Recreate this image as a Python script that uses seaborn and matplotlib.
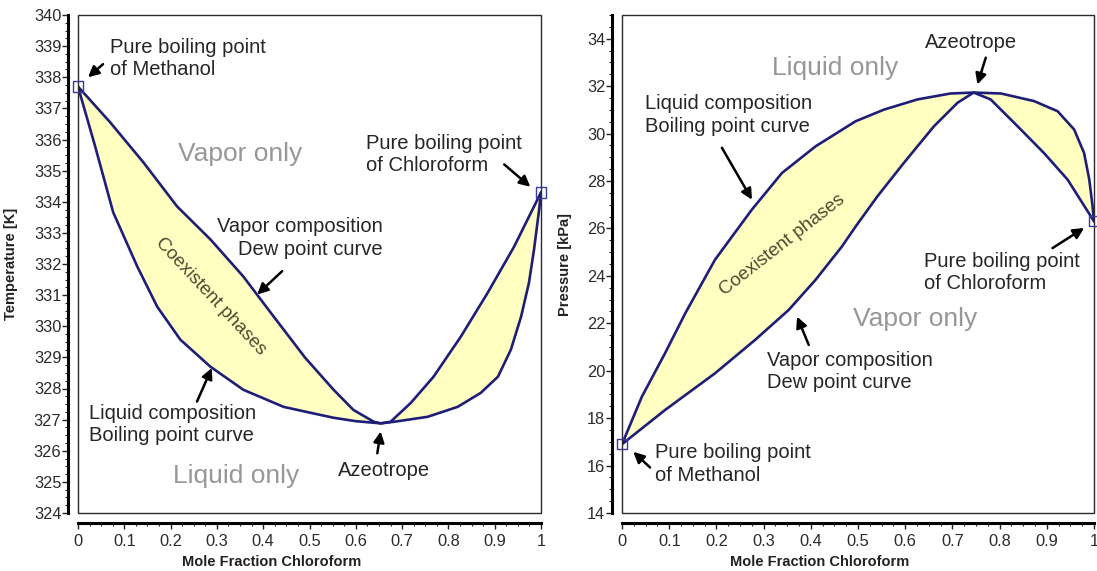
import numpy as np
import pandas as pd
import matplotlib
matplotlib.use("Agg")
import matplotlib.pyplot as plt
from matplotlib.ticker import MultipleLocator
from matplotlib.patches import Rectangle
import seaborn as sns

# ---- Methanol / chloroform VLE data ----
# T-x-y diagram (constant pressure): liquid (bubble) and vapor (dew) curves
txy_liq_x = [0.0, 0.037, 0.076, 0.128, 0.171, 0.221, 0.286, 0.357, 0.444, 0.502,
             0.552, 0.600, 0.654, 0.682, 0.755, 0.820, 0.870, 0.907, 0.935, 0.957,
             0.974, 0.985, 0.996, 1.0]
txy_liq_T = [337.70, 335.78, 333.66, 331.92, 330.63, 329.57, 328.70, 327.96, 327.41, 327.22,
             327.06, 326.95, 326.88, 326.93, 327.09, 327.41, 327.86, 328.38, 329.25, 330.31,
             331.40, 332.47, 333.75, 334.30]
txy_vap_x = [0.0, 0.069, 0.141, 0.214, 0.286, 0.357, 0.416, 0.490, 0.552, 0.595,
             0.639, 0.654, 0.675, 0.719, 0.768, 0.827, 0.885, 0.942, 1.0]
txy_vap_T = [337.70, 336.56, 335.27, 333.85, 332.79, 331.60, 330.44, 329.00, 327.96, 327.31,
             326.93, 326.88, 326.93, 327.54, 328.38, 329.67, 331.08, 332.56, 334.30]

# P-x-y diagram (constant temperature): liquid (bubble) and vapor (dew) curves
pxy_liq_x = [0.0, 0.042, 0.091, 0.134, 0.197, 0.275, 0.339, 0.410, 0.495, 0.555,
             0.626, 0.696, 0.745, 0.803, 0.873, 0.923, 0.958, 0.979, 0.990, 0.997, 1.0]
pxy_liq_P = [16.90, 18.90, 20.73, 22.42, 24.68, 26.79, 28.34, 29.46, 30.52, 31.01,
             31.44, 31.69, 31.73, 31.69, 31.37, 30.94, 30.17, 29.18, 28.06, 26.93, 26.30]
pxy_vap_x = [0.0, 0.091, 0.197, 0.282, 0.353, 0.410, 0.466, 0.495, 0.541, 0.597,
             0.661, 0.711, 0.745, 0.781, 0.838, 0.894, 0.944, 1.0]
pxy_vap_P = [16.90, 18.34, 19.89, 21.30, 22.56, 23.83, 25.24, 26.08, 27.35, 28.76,
             30.31, 31.30, 31.73, 31.44, 30.31, 29.18, 28.06, 26.30]

# pure-component end points (methanol at x=0, chloroform at x=1)
pure_x = [0.0, 1.0]
pure_T = [337.70, 334.30]
pure_P = [16.90, 26.30]

x_ticks = [0.0, 0.1, 0.2, 0.3, 0.4, 0.5, 0.6, 0.7, 0.8, 0.9, 1.0]
x_ticklabels = ["0", "0.1", "0.2", "0.3", "0.4", "0.5", "0.6", "0.7", "0.8", "0.9", "1"]

sns.set_theme(style="white")
plt.rcParams["font.family"] = ["Liberation Sans", "DejaVu Sans"]

LINE = "#1e1e78"
FILL = "#ffffc2"
TXT = "#262626"
REGION = "#979797"
PHASE = "#4b4b30"

fig = plt.figure(figsize=(10.97, 5.71), dpi=100)
ax1 = fig.add_axes([78 / 1097, 58 / 571, 463 / 1097, 498 / 571])
ax2 = fig.add_axes([622 / 1097, 58 / 571, 472 / 1097, 498 / 571])


def draw_envelope(ax, lx, ly, vx, vy, px, py):
    liq = pd.DataFrame({"x": lx, "y": ly})
    vap = pd.DataFrame({"x": vx, "y": vy})
    poly_x = list(lx) + list(vx)[::-1]
    poly_y = list(ly) + list(vy)[::-1]
    ax.fill(poly_x, poly_y, color=FILL, lw=0, zorder=1)
    sns.lineplot(data=liq, x="x", y="y", ax=ax, color=LINE, lw=1.9,
                 estimator=None, sort=False, zorder=3)
    sns.lineplot(data=vap, x="x", y="y", ax=ax, color=LINE, lw=1.9,
                 estimator=None, sort=False, zorder=3)
    ends = pd.DataFrame({"x": px, "y": py})
    sns.scatterplot(data=ends, x="x", y="y", ax=ax, marker="s", s=55,
                    facecolor="none", edgecolor="#3a3a9a", linewidth=1.0,
                    zorder=6, clip_on=False)


def style_axes(ax, ylo, yhi, ymajor, yminor, ylabel):
    ax.set_xlim(0, 1)
    ax.set_ylim(ylo, yhi)
    for s in ["top", "right"]:
        ax.spines[s].set_visible(False)
    for s in ["left", "bottom"]:
        ax.spines[s].set_position(("outward", 7))
        ax.spines[s].set_linewidth(2.2)
        ax.spines[s].set_color("black")
    ax.add_patch(Rectangle((0, 0), 1, 1, transform=ax.transAxes, fill=False,
                           lw=1.0, ec="#2a2a2a", clip_on=False, zorder=5))
    ax.set_xticks(x_ticks)
    ax.set_xticklabels(x_ticklabels)
    ax.xaxis.set_minor_locator(MultipleLocator(0.025))
    ax.yaxis.set_major_locator(MultipleLocator(ymajor))
    ax.yaxis.set_minor_locator(MultipleLocator(yminor))
    ax.tick_params(which="major", direction="out", length=4, width=1.0,
                   color="#222222", labelsize=11.8, labelcolor="#2b2b2b")
    ax.tick_params(which="minor", direction="out", length=2, width=0.8,
                   color="#222222")
    ax.tick_params(axis="x", which="both", bottom=True)
    ax.tick_params(axis="x", which="major", pad=4)
    ax.tick_params(axis="y", which="both", left=True)
    ax.tick_params(axis="y", which="major", pad=1)
    ax.set_xlabel("Mole Fraction Chloroform", fontsize=10.5, fontweight="bold",
                  color="#222222")
    ax.set_ylabel(ylabel, fontsize=10.5, fontweight="bold", color="#222222")
    ax.xaxis.set_label_coords(0.418, -0.085)
    ax.grid(False)


def note(ax, text, xy, ha="left", ma=None):
    ax.text(xy[0], xy[1], text, ha=ha, va="center", fontsize=14.5, color=TXT,
            multialignment=ma or ha, linespacing=1.22, zorder=7)


def arrow(ax, tail, head):
    ax.annotate("", xy=head, xytext=tail,
                arrowprops=dict(arrowstyle="-|>", color="black", lw=1.8,
                                mutation_scale=16, shrinkA=0, shrinkB=0),
                zorder=7)


# ---- left: temperature vs composition ----
draw_envelope(ax1, txy_liq_x, txy_liq_T, txy_vap_x, txy_vap_T, pure_x, pure_T)
style_axes(ax1, 324, 340, 1, 0.25, "Temperature [K]")
ax1.yaxis.set_label_coords(-0.13, 0.5)

ax1.text(0.351, 335.55, "Vapor only", ha="center", va="center", fontsize=19, color=REGION)
ax1.text(0.342, 325.2, "Liquid only", ha="center", va="center", fontsize=19, color=REGION)
ax1.text(0.286, 330.97, "Coexistent phases", ha="center", va="center", fontsize=13.5,
         color=PHASE, rotation=-47, rotation_mode="anchor", zorder=4)

note(ax1, "Pure boiling point\nof Methanol", (0.069, 338.6))
arrow(ax1, (0.054, 338.42), (0.0216, 338.0))
note(ax1, "Pure boiling point\nof Chloroform", (0.621, 335.52))
arrow(ax1, (0.9206, 335.20), (0.977, 334.48))
note(ax1, "Vapor composition\nDew point curve", (0.658, 332.84), ha="right")
arrow(ax1, (0.441, 331.77), (0.387, 331.02))
note(ax1, "Liquid composition\nBoiling point curve", (0.0245, 326.85))
arrow(ax1, (0.257, 327.58), (0.289, 328.66))
ax1.text(0.662, 325.38, "Azeotrope", ha="center", va="center", fontsize=14.5, color=TXT)
arrow(ax1, (0.6465, 325.92), (0.6537, 326.62))

# ---- right: pressure vs composition ----
draw_envelope(ax2, pxy_liq_x, pxy_liq_P, pxy_vap_x, pxy_vap_P, pure_x, pure_P)
style_axes(ax2, 14, 35, 2, 0.5, "Pressure [kPa]")
ax2.yaxis.set_label_coords(-0.1066, 0.5)

ax2.text(0.452, 32.75, "Liquid only", ha="center", va="center", fontsize=19, color=REGION)
ax2.text(0.622, 22.2, "Vapor only", ha="center", va="center", fontsize=19, color=REGION)
ax2.text(0.339, 25.31, "Coexistent phases", ha="center", va="center", fontsize=13.5,
         color=PHASE, rotation=38, rotation_mode="anchor", zorder=4)

ax2.text(0.7396, 33.85, "Azeotrope", ha="center", va="center", fontsize=14.5, color=TXT)
arrow(ax2, (0.7707, 33.20), (0.753, 32.07))
note(ax2, "Liquid composition\nBoiling point curve", (0.0488, 30.78))
arrow(ax2, (0.2117, 29.40), (0.2754, 27.21))
note(ax2, "Vapor composition\nDew point curve", (0.307, 19.96))
arrow(ax2, (0.3956, 21.09), (0.371, 22.28))
note(ax2, "Pure boiling point\nof Chloroform", (0.640, 24.15))
arrow(ax2, (0.912, 25.17), (0.979, 26.02))
note(ax2, "Pure boiling point\nof Methanol", (0.070, 16.06))
arrow(ax2, (0.0594, 15.92), (0.024, 16.58))

fig.savefig("out.png", dpi=100, facecolor="white")
